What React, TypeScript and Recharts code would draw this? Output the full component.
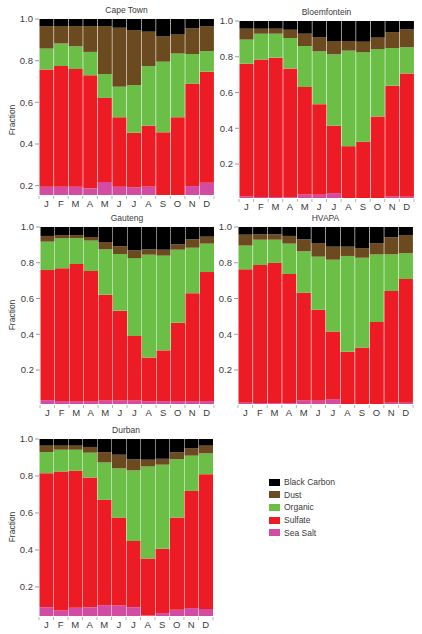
import { Bar, BarChart, XAxis, YAxis } from 'recharts'

const months = ['J', 'F', 'M', 'A', 'M', 'J', 'J', 'A', 'S', 'O', 'N', 'D']
const yTicks = [0.2, 0.4, 0.6, 0.8, 1.0]

// fractions per month, stacked bottom to top: sea salt, sulfate, organic, dust, black carbon
const capeTownSeaSalt = [0.195, 0.195, 0.195, 0.187, 0.218, 0.195, 0.192, 0.195, 0.12, 0.12, 0.198, 0.214]
const capeTownSulfate = [0.563, 0.579, 0.565, 0.543, 0.403, 0.333, 0.262, 0.293, 0.336, 0.408, 0.492, 0.533]
const capeTownOrganic = [0.1, 0.108, 0.109, 0.112, 0.115, 0.147, 0.229, 0.286, 0.339, 0.307, 0.142, 0.099]
const capeTownDust = [0.108, 0.084, 0.097, 0.124, 0.23, 0.283, 0.264, 0.165, 0.123, 0.093, 0.123, 0.12]
const capeTownBlackCarbon = [0.034, 0.034, 0.034, 0.034, 0.034, 0.042, 0.053, 0.061, 0.082, 0.072, 0.045, 0.034]

const bloemSeaSalt = [0.019, 0.015, 0.016, 0.015, 0.03, 0.028, 0.037, 0.005, 0.005, 0.008, 0.019, 0.017]
const bloemSulfate = [0.742, 0.769, 0.779, 0.72, 0.601, 0.507, 0.377, 0.295, 0.32, 0.458, 0.619, 0.69]
const bloemOrganic = [0.135, 0.145, 0.134, 0.17, 0.229, 0.295, 0.399, 0.534, 0.5, 0.377, 0.211, 0.146]
const bloemDust = [0.061, 0.028, 0.028, 0.046, 0.069, 0.08, 0.075, 0.054, 0.059, 0.064, 0.089, 0.1]
const bloemBlackCarbon = [0.043, 0.043, 0.043, 0.049, 0.071, 0.09, 0.112, 0.112, 0.116, 0.093, 0.062, 0.047]

const gautengSeaSalt = [0.032, 0.026, 0.026, 0.026, 0.03, 0.03, 0.03, 0.026, 0.026, 0.026, 0.026, 0.026]
const gautengSulfate = [0.727, 0.743, 0.767, 0.728, 0.591, 0.502, 0.36, 0.244, 0.284, 0.439, 0.604, 0.722]
const gautengOrganic = [0.159, 0.168, 0.145, 0.17, 0.254, 0.317, 0.436, 0.575, 0.53, 0.408, 0.254, 0.159]
const gautengDust = [0.032, 0.018, 0.017, 0.02, 0.041, 0.043, 0.043, 0.03, 0.033, 0.03, 0.047, 0.039]
const gautengBlackCarbon = [0.05, 0.045, 0.045, 0.056, 0.084, 0.108, 0.131, 0.125, 0.127, 0.097, 0.069, 0.054]

const hvapaSeaSalt = [0.017, 0.015, 0.015, 0.015, 0.03, 0.028, 0.037, 0.005, 0.005, 0.008, 0.017, 0.017]
const hvapaSulfate = [0.746, 0.772, 0.784, 0.722, 0.602, 0.509, 0.379, 0.297, 0.321, 0.46, 0.625, 0.692]
const hvapaOrganic = [0.133, 0.142, 0.13, 0.17, 0.232, 0.297, 0.401, 0.536, 0.502, 0.379, 0.205, 0.144]
const hvapaDust = [0.061, 0.03, 0.03, 0.043, 0.067, 0.076, 0.073, 0.052, 0.054, 0.063, 0.095, 0.102]
const hvapaBlackCarbon = [0.043, 0.041, 0.041, 0.05, 0.069, 0.09, 0.11, 0.11, 0.118, 0.09, 0.058, 0.045]

const durbanSeaSalt = [0.091, 0.073, 0.088, 0.09, 0.102, 0.1, 0.091, 0.046, 0.059, 0.077, 0.086, 0.081]
const durbanSulfate = [0.724, 0.751, 0.74, 0.702, 0.569, 0.475, 0.357, 0.308, 0.347, 0.499, 0.633, 0.729]
const durbanOrganic = [0.114, 0.118, 0.114, 0.134, 0.202, 0.266, 0.382, 0.498, 0.455, 0.315, 0.191, 0.112]
const durbanDust = [0.035, 0.022, 0.022, 0.031, 0.056, 0.074, 0.061, 0.036, 0.032, 0.037, 0.039, 0.042]
const durbanBlackCarbon = [0.036, 0.036, 0.036, 0.043, 0.071, 0.085, 0.109, 0.112, 0.107, 0.072, 0.051, 0.036]

const species = [
  { key: 'seaSalt', name: 'Sea Salt', color: '#d24ca2' },
  { key: 'sulfate', name: 'Sulfate', color: '#ed1c24' },
  { key: 'organic', name: 'Organic', color: '#6bbf47' },
  { key: 'dust', name: 'Dust', color: '#6b4a1f' },
  { key: 'blackCarbon', name: 'Black Carbon', color: '#000000' },
]

const font = '"Liberation Sans", Arial, sans-serif'
const textColor = '#3a3a3a'

function buildRows(ss: number[], su: number[], org: number[], du: number[], bc: number[]) {
  return months.map((month, i) => ({
    month,
    seaSalt: ss[i],
    sulfate: su[i],
    organic: org[i],
    dust: du[i],
    blackCarbon: bc[i],
  }))
}

interface PanelProps {
  title: string
  rows: ReturnType<typeof buildRows>
  x0: number
  x1: number
  y0: number
  y1: number
  yMin: number
  yLabelAt?: number
}

function Panel({ title, rows, x0, x1, y0, y1, yMin, yLabelAt }: PanelProps) {
  const axisW = 39
  const left = x0 - axisW
  const top = y0 - 19
  const width = x1 - left + 4
  const height = y1 - top + 20
  const band = (x1 - x0) / months.length

  const renderTick = (props: any) => {
    const { x, y, payload } = props
    const i = payload.index ?? props.index
    const edge = x - band / 2
    return (
      <g>
        <line x1={edge} x2={edge} y1={y + 1} y2={y + 4} stroke="#b5b5b5" />
        {i === months.length - 1 ? (
          <line x1={edge + band} x2={edge + band} y1={y + 1} y2={y + 4} stroke="#b5b5b5" />
        ) : null}
        <text x={x} y={y + 12} textAnchor="middle" fontSize={9.5} fill={textColor} fontFamily={font}>
          {payload.value}
        </text>
      </g>
    )
  }

  return (
    <>
      <div
        style={{
          position: 'absolute',
          left: x0,
          width: x1 - x0,
          top: y0 - 15,
          textAlign: 'center',
          fontSize: 8.5,
          lineHeight: '12px',
          fontFamily: font,
          color: textColor,
        }}
      >
        {title}
      </div>
      {yLabelAt !== undefined ? (
        <div
          style={{
            position: 'absolute',
            left: 12 - 30,
            top: yLabelAt - 6,
            width: 60,
            textAlign: 'center',
            fontSize: 8.5,
            lineHeight: '12px',
            fontFamily: font,
            color: textColor,
            transform: 'rotate(-90deg)',
          }}
        >
          Fraction
        </div>
      ) : null}
      <div style={{ position: 'absolute', left, top }}>
        <BarChart
          width={width}
          height={height}
          data={rows}
          margin={{ top: 19, right: 4, bottom: 0, left: 0 }}
          barCategoryGap={0.5}
        >
          <XAxis
            dataKey="month"
            height={20}
            axisLine={false}
            tickLine={false}
            tickSize={0}
            tickMargin={0}
            interval={0}
            tick={renderTick}
          />
          <YAxis
            width={axisW}
            type="number"
            domain={[yMin, 1]}
            allowDataOverflow
            ticks={yTicks}
            tickFormatter={(v: number) => v.toFixed(1)}
            axisLine={false}
            tickLine={{ stroke: '#9a9a9a' }}
            tickSize={4}
            tickMargin={2}
            tick={{ fontSize: 9.5, fill: textColor, fontFamily: font }}
          />
          {species.map((s) => (
            <Bar
              key={s.key}
              dataKey={s.key}
              stackId="a"
              fill={s.color}
              isAnimationActive={false}
            />
          ))}
        </BarChart>
      </div>
    </>
  )
}

function LegendBox() {
  const order = [...species].reverse()
  return (
    <div style={{ position: 'absolute', left: 269, top: 476 }}>
      {order.map((s) => (
        <div
          key={s.key}
          style={{ display: 'flex', alignItems: 'center', height: 12.6, fontFamily: font, fontSize: 8.5, color: textColor }}
        >
          <span style={{ display: 'inline-block', width: 11, height: 7, background: s.color, marginRight: 4 }} />
          {s.name}
        </div>
      ))}
    </div>
  )
}

export default function App() {
  return (
    <div style={{ position: 'absolute', left: 0, top: 0, width: 422, height: 634, background: '#fff' }}>
      <Panel
        title="Cape Town"
        rows={buildRows(capeTownSeaSalt, capeTownSulfate, capeTownOrganic, capeTownDust, capeTownBlackCarbon)}
        x0={39}
        x1={214}
        y0={19}
        y1={195}
        yMin={0.155}
        yLabelAt={120}
      />
      <Panel
        title="Bloemfontein"
        rows={buildRows(bloemSeaSalt, bloemSulfate, bloemOrganic, bloemDust, bloemBlackCarbon)}
        x0={239}
        x1={414}
        y0={21}
        y1={198}
        yMin={0.01}
      />
      <Panel
        title="Gauteng"
        rows={buildRows(gautengSeaSalt, gautengSulfate, gautengOrganic, gautengDust, gautengBlackCarbon)}
        x0={40}
        x1={214}
        y0={227}
        y1={404}
        yMin={0.01}
        yLabelAt={315}
      />
      <Panel
        title="HVAPA"
        rows={buildRows(hvapaSeaSalt, hvapaSulfate, hvapaOrganic, hvapaDust, hvapaBlackCarbon)}
        x0={238}
        x1={413}
        y0={227}
        y1={404}
        yMin={0.01}
      />
      <Panel
        title="Durban"
        rows={buildRows(durbanSeaSalt, durbanSulfate, durbanOrganic, durbanDust, durbanBlackCarbon)}
        x0={39}
        x1={213}
        y0={439}
        y1={616}
        yMin={0.043}
        yLabelAt={527}
      />
      <LegendBox />
    </div>
  )
}
